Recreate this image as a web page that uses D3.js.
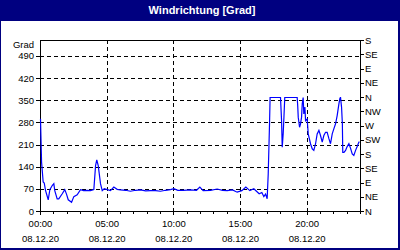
<!DOCTYPE html>
<html>
<head>
<meta charset="utf-8">
<script src="https://cdn.jsdelivr.net/npm/d3@7"></script>
<style>
  html, body { margin: 0; padding: 0; background: #ffffff; }
  svg { display: block; }
  text { font-family: "Liberation Sans", Arial, sans-serif; }
</style>
</head>
<body>
<div id="chart"></div>
<script>
// Constants
const WIDTH = 400;
const HEIGHT = 250;
const NAVY = "#000080";
const LINE_COLOR = "#0000ff";
const TITLE = "Windrichtung [Grad]";
const UNIT_LABEL = "Grad";

//==========================================
// Data
//==========================================

// Time of day in hours
const hours = [
  0.0, 0.08, 0.2, 0.28, 0.38, 0.58, 0.7, 0.88, 1.0, 1.07, 1.25, 1.37, 1.63, 1.82, 1.95,
  2.08, 2.33, 2.5, 2.75, 3.0, 3.23, 3.5, 3.75, 4.0, 4.13, 4.22, 4.33, 4.5, 4.63, 4.78,
  4.95, 5.25, 5.5, 5.75, 6.0, 6.38, 6.75, 7.13, 7.5, 7.88, 8.25, 8.63, 9.0, 9.38, 9.75,
  10.0, 10.3, 10.7, 11.25, 11.7, 11.95, 12.2, 12.75, 13.25, 13.65, 14.0, 14.4, 14.75,
  15.1, 15.4, 15.7, 16.0, 16.2, 16.4, 16.6, 16.75, 16.88, 17.0, 17.08, 17.18, 17.22,
  18.0, 18.08, 18.13, 18.2, 18.26, 18.32, 19.25, 19.29, 19.33, 19.43, 19.5, 19.58,
  19.63, 19.7, 19.75, 19.83, 19.88, 20.0, 20.08, 20.25, 20.38, 20.5, 20.63, 20.75,
  20.88, 21.0, 21.13, 21.25, 21.38, 21.5, 21.63, 21.75, 21.88, 22.0, 22.13, 22.25,
  22.38, 22.45, 22.5, 22.58, 22.64, 22.67, 22.76, 22.88, 23.0, 23.13, 23.25, 23.38,
  23.5, 23.63, 23.75, 23.88, 23.93
];

// Wind direction in degrees
const degrees = [
  293, 156, 93, 90, 66, 37, 69, 82, 88, 66, 40, 40, 56, 69, 55,
  37, 29, 47, 53, 69, 66, 67, 66, 69, 145, 163, 145, 88, 66, 72,
  70, 66, 77, 70, 68, 67, 64, 67, 68, 65, 66, 66, 64, 67, 69,
  72, 67, 67, 68, 67, 77, 66, 67, 71, 67, 66, 68, 61,
  66, 77, 66, 72, 64, 56, 60, 47, 55, 40, 119, 282, 360,
  360, 287, 203, 245, 300, 360, 360, 335, 298, 266, 276, 298,
  340, 360, 308, 330, 287, 292, 245, 214, 198, 193, 214, 245,
  256, 240, 219, 240, 250, 250, 230, 214, 245, 261, 277, 303,
  340, 356, 361, 329, 277, 187, 187, 193, 205, 214, 200, 182,
  177, 193, 205, 219, 219
];

// Axis ticks and labels
const degreeTicks = [0, 70, 140, 210, 280, 350, 420, 490];
const compassTicks = [0, 45, 90, 135, 180, 225, 270, 315, 360, 405, 450, 495, 540];
const compassLabels = ["N", "NE", "E", "SE", "S", "SW", "W", "NW", "N", "NE", "E", "SE", "S"];
const majorHours = [0, 5, 10, 15, 20];
const timeLabels = ["00:00", "05:00", "10:00", "15:00", "20:00"];
const dateLabels = ["08.12.20", "08.12.20", "08.12.20", "08.12.20", "08.12.20"];

//==========================================
// Chart
//==========================================

function drawChart() {
  const plot = { left: 40, right: 360, top: 40, bottom: 211 };

  const svg = d3.select("#chart").append("svg")
    .attr("width", WIDTH)
    .attr("height", HEIGHT);

  // Window frame and title bar
  svg.append("rect")
    .attr("width", WIDTH).attr("height", HEIGHT)
    .style("fill", NAVY);
  svg.append("rect")
    .attr("x", 1).attr("y", 21)
    .attr("width", 397).attr("height", 227)
    .style("fill", "#ffffff");
  svg.append("text")
    .attr("x", 202).attr("y", 14)
    .style("text-anchor", "middle")
    .style("fill", "#ffffff")
    .style("font-weight", "bold")
    .style("font-size", "11px")
    .text(TITLE);

  const x = d3.scaleLinear().domain([0, 24]).range([plot.left, plot.right]);
  const y = d3.scaleLinear().domain([0, 540]).range([plot.bottom, plot.top]);

  // Dashed grid lines
  const grid = svg.append("g")
    .style("stroke", "#000000")
    .style("stroke-width", 1)
    .style("stroke-dasharray", "4,3")
    .style("shape-rendering", "crispEdges");

  grid.selectAll(".hgrid")
    .data(degreeTicks.filter(d => d > 0))
    .enter().append("line")
    .attr("x1", plot.left).attr("x2", plot.right)
    .attr("y1", d => y(d) + 0.5).attr("y2", d => y(d) + 0.5);

  grid.selectAll(".vgrid")
    .data(majorHours.filter(d => d > 0))
    .enter().append("line")
    .attr("x1", d => x(d) + 0.5).attr("x2", d => x(d) + 0.5)
    .attr("y1", plot.top).attr("y2", plot.bottom);

  // Left axis (degrees)
  const leftAxis = svg.append("g")
    .attr("transform", `translate(${plot.left},0)`)
    .call(d3.axisLeft(y).tickValues(degreeTicks).tickSize(4).tickPadding(2));

  // Right axis (compass points)
  const rightAxis = svg.append("g")
    .attr("transform", `translate(${plot.right},0)`)
    .call(d3.axisRight(y)
      .tickValues(compassTicks)
      .tickFormat((d, i) => compassLabels[i])
      .tickSize(4).tickPadding(1));

  // Bottom axis: hourly minor ticks and 5 hour major ticks
  const minorAxis = svg.append("g")
    .attr("transform", `translate(0,${plot.bottom})`)
    .call(d3.axisBottom(x).tickValues(d3.range(0, 25)).tickSize(3).tickFormat(""));

  const majorAxis = svg.append("g")
    .attr("transform", `translate(0,${plot.bottom})`)
    .call(d3.axisBottom(x).tickValues(majorHours).tickSize(4).tickFormat(""));

  [leftAxis, rightAxis, minorAxis, majorAxis].forEach(axis => {
    axis.select(".domain").remove();
    axis.selectAll("line").style("shape-rendering", "crispEdges");
    axis.selectAll("text")
      .style("font-family", "'Liberation Sans', Arial, sans-serif")
      .style("font-size", "9.5px")
      .style("fill", "#000000");
  });

  // Two line time labels
  const labels = svg.append("g")
    .style("font-size", "9.5px")
    .style("text-anchor", "middle")
    .style("fill", "#000000");

  labels.selectAll(".time")
    .data(majorHours)
    .enter().append("text")
    .attr("x", d => x(d) + 0.5)
    .attr("y", 227)
    .text((d, i) => timeLabels[i]);

  labels.selectAll(".date")
    .data(majorHours)
    .enter().append("text")
    .attr("x", d => x(d) + 0.5)
    .attr("y", 242)
    .text((d, i) => dateLabels[i]);

  // Unit label above the left axis
  svg.append("text")
    .attr("x", 34).attr("y", 48)
    .style("text-anchor", "end")
    .style("font-size", "9.5px")
    .text(UNIT_LABEL);

  // Plot frame
  svg.append("rect")
    .attr("x", plot.left + 0.5).attr("y", plot.top + 0.5)
    .attr("width", plot.right - plot.left)
    .attr("height", plot.bottom - plot.top)
    .style("fill", "none")
    .style("stroke", "#000000")
    .style("shape-rendering", "crispEdges");

  // Wind direction line
  const points = hours.map((h, i) => [h, degrees[i]]);
  svg.append("path")
    .datum(points)
    .attr("transform", "translate(0.5,0.5)")
    .attr("d", d3.line().x(d => x(d[0])).y(d => y(d[1])))
    .style("fill", "none")
    .style("stroke", LINE_COLOR)
    .style("stroke-width", 1.2);
}

drawChart();
</script>
</body>
</html>
